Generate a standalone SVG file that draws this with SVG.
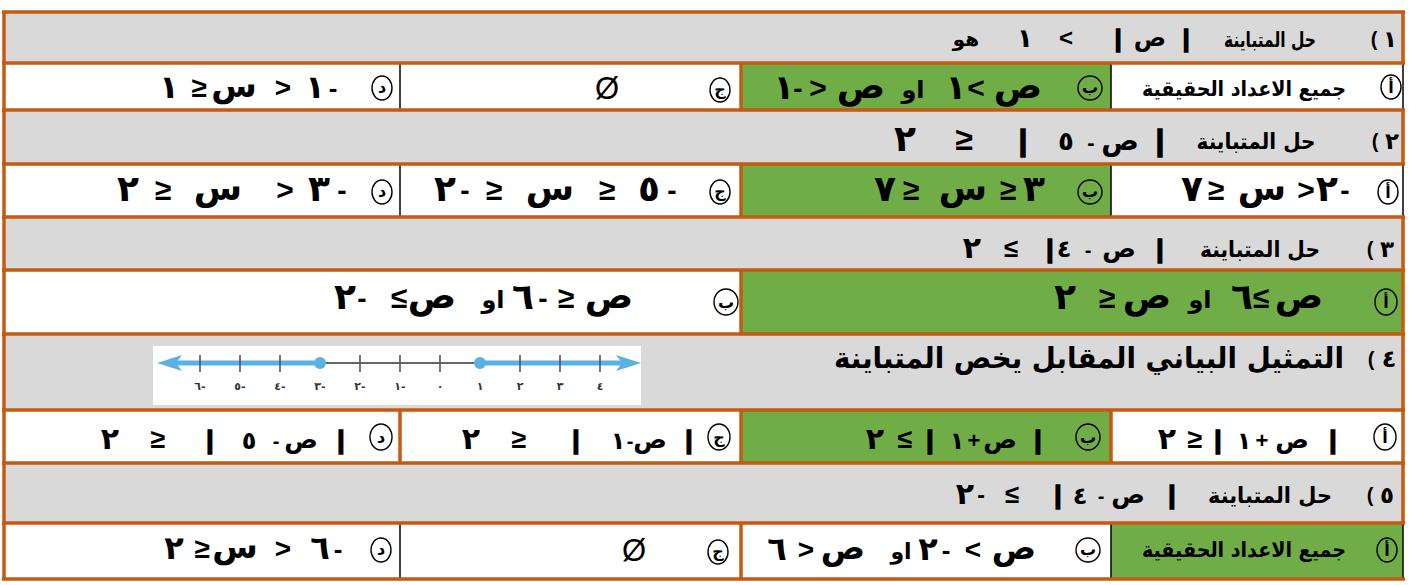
<svg xmlns="http://www.w3.org/2000/svg" width="1418" height="585" viewBox="0 0 1418 585">
<style>
.hd{fill:#D9D9D9}
.gr{fill:#70AD47}
.ol{stroke:#C55A11;stroke-width:3.5;fill:none}
.bl{stroke:#000;stroke-width:1.5;fill:none}
.ar{font-family:'DejaVu Sans',sans-serif;font-weight:bold;text-anchor:middle;fill:#000}
.sy{font-family:'Liberation Sans',Arial,sans-serif;font-weight:bold;text-anchor:middle;fill:#000}
.br{font-family:'Liberation Sans',Arial,sans-serif;font-weight:bold;text-anchor:middle;fill:#000;stroke:#000;stroke-width:1.6}
.em{font-family:'Liberation Sans',Arial,sans-serif;text-anchor:middle;fill:#000}
.ci{fill:none;stroke:#000;stroke-width:1.4}
.cl{font-family:'DejaVu Sans',sans-serif;font-weight:bold;font-size:16px;text-anchor:middle;fill:#000}
.nl{font-family:'DejaVu Sans',sans-serif;font-weight:bold;font-size:11px;text-anchor:middle;fill:#333}
.tk{stroke:#555;stroke-width:1.6}
</style>
<rect width="1418" height="585" fill="#fff"/>
<g id="fills">
<rect class="hd" x="4" y="12" width="1399" height="51"/>
<rect class="hd" x="4" y="110" width="1399" height="54"/>
<rect class="hd" x="4" y="217" width="1399" height="53"/>
<rect class="hd" x="4" y="334" width="1399" height="76"/>
<rect class="hd" x="4" y="463" width="1399" height="60"/>
<rect class="gr" x="741" y="63" width="370" height="47"/>
<rect class="gr" x="741" y="164" width="370" height="53"/>
<rect class="gr" x="741" y="270" width="662" height="64"/>
<rect class="gr" x="741" y="410" width="370" height="53"/>
<rect class="gr" x="1111" y="523" width="292" height="56"/>
</g>
<g id="grid">
<line class="bl" x1="400" y1="63" x2="400" y2="110"/>
<line class="bl" x1="1111" y1="63" x2="1111" y2="110"/>
<line class="bl" x1="400" y1="164" x2="400" y2="217"/>
<line class="bl" x1="1111" y1="164" x2="1111" y2="217"/>
<line class="bl" x1="400" y1="523" x2="400" y2="579"/>
<line class="bl" x1="1111" y1="523" x2="1111" y2="579"/>
<line class="bl" x1="1403" y1="63" x2="1403" y2="110"/>
<line class="bl" x1="1403" y1="164" x2="1403" y2="217"/>
<line class="bl" x1="1403" y1="523" x2="1403" y2="579"/>
<line class="ol" x1="741" y1="63" x2="741" y2="110"/>
<line class="ol" x1="741" y1="164" x2="741" y2="217"/>
<line class="ol" x1="741" y1="270" x2="741" y2="334"/>
<line class="ol" x1="741" y1="410" x2="741" y2="463"/>
<line class="ol" x1="741" y1="523" x2="741" y2="579"/>
<line class="ol" x1="400" y1="410" x2="400" y2="463"/>
<line class="ol" x1="1111" y1="410" x2="1111" y2="463"/>
<path class="ol" d="M1403 12V63M1403 110V164M1403 217V523"/>
<line class="ol" x1="4" y1="12" x2="4" y2="579"/>
<path class="ol" d="M2 12H1405M2 63H1405M2 110H1405M2 164H1405M2 217H1405M2 270H1405M2 334H1405M2 410H1405M2 463H1405M2 523H1405M2 579H1405"/>
</g>

<g id="q1">
<text class="ar" x="966" y="46" font-size="20">هو</text>
<text class="ar" x="1025" y="47" font-size="26">١</text>
<text class="sy" x="1066" y="46" font-size="24">&lt;</text>
<text class="br" x="1118" y="47" font-size="24">|</text>
<text class="ar" x="1150" y="46" font-size="24">ص</text>
<text class="br" x="1186" y="47" font-size="24">|</text>
<text class="ar" x="1270" y="47" font-size="21" textLength="92" lengthAdjust="spacingAndGlyphs">حل المتباينة</text>
<text class="sy" x="1374" y="46" font-size="20">(</text>
<text class="ar" x="1390" y="47" font-size="23">١</text>
</g>
<g id="q1a">
<text class="ar" x="1244" y="96" font-size="21" textLength="204" lengthAdjust="spacingAndGlyphs">جميع الاعداد الحقيقية</text>
<ellipse class="ci" cx="1391" cy="87" rx="10" ry="12"/><text class="cl" x="1391" y="93">أ</text>
</g>
<g id="q1b">
<text class="ar" x="784" y="99" font-size="34">١</text>
<text class="sy" x="798" y="98" font-size="28">-</text>
<text class="sy" x="818" y="98" font-size="30">&gt;</text>
<text class="ar" x="861" y="98" font-size="36">ص</text>
<text class="ar" x="913" y="98" font-size="24">او</text>
<text class="ar" x="956" y="99" font-size="34">١</text>
<text class="sy" x="976" y="98" font-size="30">&lt;</text>
<text class="ar" x="1018" y="98" font-size="36">ص</text>
<ellipse class="ci" cx="1090" cy="88" rx="12" ry="12"/><text class="cl" x="1090" y="93">ب</text>
</g>
<g id="q1c">
<text class="em" x="607" y="99" font-size="31">Ø</text>
<ellipse class="ci" cx="720" cy="90" rx="10" ry="12"/><text class="cl" x="720" y="95">ج</text>
</g>
<g id="q1d">
<text class="ar" x="169" y="98" font-size="32">١</text>
<text class="sy" x="199" y="97" font-size="28">≥</text>
<text class="ar" x="234" y="97" font-size="33">س</text>
<text class="sy" x="283" y="97" font-size="28">&gt;</text>
<text class="ar" x="315" y="98" font-size="32">١</text>
<text class="sy" x="333" y="97" font-size="26">-</text>
<ellipse class="ci" cx="382" cy="88" rx="10" ry="12"/><text class="cl" x="382" y="93">د</text>
</g>

<g id="q2">
<text class="ar" x="905" y="151" font-size="36">٢</text>
<text class="sy" x="964" y="150" font-size="32">≥</text>
<text class="br" x="1023" y="151" font-size="30">|</text>
<text class="ar" x="1066" y="150" font-size="26">٥</text>
<text class="sy" x="1091" y="150" font-size="22">-</text>
<text class="ar" x="1120" y="150" font-size="28">ص</text>
<text class="br" x="1160" y="151" font-size="30">|</text>
<text class="ar" x="1256" y="149" font-size="22" textLength="119" lengthAdjust="spacingAndGlyphs">حل المتباينة</text>
<text class="sy" x="1375" y="148" font-size="20">(</text>
<text class="ar" x="1392" y="149" font-size="23">٢</text>
</g>
<g id="q2a">
<text class="ar" x="1192" y="201" font-size="36">٧</text>
<text class="sy" x="1216" y="200" font-size="30">≥</text>
<text class="ar" x="1262" y="200" font-size="35">س</text>
<text class="sy" x="1306" y="200" font-size="30">&gt;</text>
<text class="ar" x="1327" y="201" font-size="36">٢</text>
<text class="sy" x="1345" y="200" font-size="28">-</text>
<ellipse class="ci" cx="1388" cy="192" rx="10" ry="12"/><text class="cl" x="1388" y="198">أ</text>
</g>
<g id="q2b">
<text class="ar" x="885" y="201" font-size="36">٧</text>
<text class="sy" x="911" y="200" font-size="30">≥</text>
<text class="ar" x="963" y="200" font-size="35">س</text>
<text class="sy" x="1008" y="200" font-size="30">≥</text>
<text class="ar" x="1034" y="201" font-size="36">٣</text>
<ellipse class="ci" cx="1090" cy="192" rx="12" ry="12"/><text class="cl" x="1090" y="197">ب</text>
</g>
<g id="q2c">
<text class="ar" x="445" y="201" font-size="36">٢</text>
<text class="sy" x="465" y="200" font-size="28">-</text>
<text class="sy" x="494" y="200" font-size="30">≥</text>
<text class="ar" x="550" y="200" font-size="35">س</text>
<text class="sy" x="607" y="200" font-size="30">≥</text>
<text class="ar" x="649" y="201" font-size="36">٥</text>
<text class="sy" x="672" y="200" font-size="28">-</text>
<ellipse class="ci" cx="720" cy="192" rx="10" ry="12"/><text class="cl" x="720" y="197">ج</text>
</g>
<g id="q2d">
<text class="ar" x="128" y="201" font-size="36">٢</text>
<text class="sy" x="163" y="200" font-size="30">≥</text>
<text class="ar" x="218" y="200" font-size="35">س</text>
<text class="sy" x="285" y="200" font-size="30">&gt;</text>
<text class="ar" x="319" y="201" font-size="36">٣</text>
<text class="sy" x="342" y="200" font-size="28">-</text>
<ellipse class="ci" cx="382" cy="192" rx="10" ry="12"/><text class="cl" x="382" y="197">د</text>
</g>

<g id="q3">
<text class="ar" x="972" y="258" font-size="30">٢</text>
<text class="sy" x="1011" y="257" font-size="26">≤</text>
<text class="br" x="1050" y="258" font-size="26">|</text>
<text class="ar" x="1064" y="257" font-size="24">٤</text>
<text class="sy" x="1088" y="257" font-size="20">-</text>
<text class="ar" x="1119" y="257" font-size="25">ص</text>
<text class="br" x="1160" y="258" font-size="26">|</text>
<text class="ar" x="1260" y="257" font-size="22" textLength="120" lengthAdjust="spacingAndGlyphs">حل المتباينة</text>
<text class="sy" x="1370" y="256" font-size="20">(</text>
<text class="ar" x="1387" y="257" font-size="23">٣</text>
</g>
<g id="q3a">
<text class="ar" x="1065" y="309" font-size="36">٢</text>
<text class="sy" x="1107" y="308" font-size="30">≥</text>
<text class="ar" x="1147" y="308" font-size="36">ص</text>
<text class="ar" x="1200" y="308" font-size="24">او</text>
<text class="ar" x="1242" y="309" font-size="36">٦</text>
<text class="sy" x="1261" y="308" font-size="30">≤</text>
<text class="ar" x="1299" y="308" font-size="36">ص</text>
<ellipse class="ci" cx="1386" cy="302" rx="11" ry="13"/><text class="cl" x="1386" y="308">أ</text>
</g>
<g id="q3b">
<text class="ar" x="345" y="309" font-size="36">٢</text>
<text class="sy" x="362" y="308" font-size="28">-</text>
<text class="sy" x="399" y="308" font-size="30">≤</text>
<text class="ar" x="432" y="308" font-size="36">ص</text>
<text class="ar" x="493" y="308" font-size="24">او</text>
<text class="ar" x="523" y="309" font-size="36">٦</text>
<text class="sy" x="543" y="308" font-size="28">-</text>
<text class="sy" x="566" y="308" font-size="30">≥</text>
<text class="ar" x="609" y="308" font-size="36">ص</text>
<ellipse class="ci" cx="726" cy="302" rx="12" ry="13"/><text class="cl" x="726" y="308">ب</text>
</g>

<g id="q4">
<text class="ar" x="1344" y="368" font-size="29" text-anchor="end" style="text-anchor:end" textLength="510" lengthAdjust="spacingAndGlyphs">التمثيل البياني المقابل يخص المتباينة</text>
<text class="sy" x="1371" y="366" font-size="20">(</text>
<text class="ar" x="1389" y="367" font-size="24">٤</text>
</g>
<g id="numberline">
<rect x="153" y="346" width="488" height="59" fill="#fff"/>
<line x1="172" y1="363" x2="320" y2="363" stroke="#5AB1E2" stroke-width="5"/>
<line x1="480" y1="363" x2="626" y2="363" stroke="#5AB1E2" stroke-width="5"/>
<line x1="320" y1="363" x2="480" y2="363" stroke="#333" stroke-width="1.5"/>
<polygon points="157,363 182,355 176,363 182,371" fill="#5AB1E2"/>
<polygon points="641,363 616,355 622,363 616,371" fill="#5AB1E2"/>
<path class="tk" d="M200 355V372M240 355V372M280 355V372M360 355V372M400 355V372M440 355V372M520 355V372M560 355V372M600 355V372"/>
<circle cx="320" cy="363" r="6" fill="#5AB1E2"/>
<circle cx="480" cy="363" r="6" fill="#5AB1E2"/>
<text class="nl" x="200" y="390">٦-</text>
<text class="nl" x="240" y="390">٥-</text>
<text class="nl" x="280" y="390">٤-</text>
<text class="nl" x="320" y="390">٣-</text>
<text class="nl" x="360" y="390">٢-</text>
<text class="nl" x="400" y="390">١-</text>
<text class="nl" x="440" y="390">٠</text>
<text class="nl" x="480" y="390">١</text>
<text class="nl" x="520" y="390">٢</text>
<text class="nl" x="560" y="390">٣</text>
<text class="nl" x="600" y="390">٤</text>
</g>
<g id="q4a">
<text class="ar" x="1167" y="449" font-size="30">٢</text>
<text class="sy" x="1195" y="448" font-size="27">≥</text>
<text class="br" x="1218" y="449" font-size="26">|</text>
<text class="ar" x="1244" y="449" font-size="24">١</text>
<text class="sy" x="1262" y="448" font-size="22">+</text>
<text class="ar" x="1292" y="448" font-size="25">ص</text>
<text class="br" x="1333" y="449" font-size="26">|</text>
<ellipse class="ci" cx="1385" cy="437" rx="11" ry="13"/><text class="cl" x="1385" y="443">أ</text>
</g>
<g id="q4b">
<text class="ar" x="875" y="449" font-size="30">٢</text>
<text class="sy" x="905" y="448" font-size="27">≤</text>
<text class="br" x="930" y="449" font-size="26">|</text>
<text class="ar" x="957" y="449" font-size="24">١</text>
<text class="sy" x="974" y="448" font-size="22">+</text>
<text class="ar" x="1000" y="448" font-size="25">ص</text>
<text class="br" x="1038" y="449" font-size="26">|</text>
<ellipse class="ci" cx="1088" cy="437" rx="12" ry="13"/><text class="cl" x="1088" y="443">ب</text>
</g>
<g id="q4c">
<text class="ar" x="471" y="449" font-size="30">٢</text>
<text class="sy" x="519" y="448" font-size="27">≥</text>
<text class="br" x="576" y="449" font-size="26">|</text>
<text class="ar" x="618" y="449" font-size="24">١</text>
<text class="sy" x="630" y="448" font-size="20">-</text>
<text class="ar" x="650" y="448" font-size="25">ص</text>
<text class="br" x="689" y="449" font-size="26">|</text>
<ellipse class="ci" cx="719" cy="437" rx="11" ry="13"/><text class="cl" x="719" y="443">ج</text>
</g>
<g id="q4d">
<text class="ar" x="110" y="449" font-size="30">٢</text>
<text class="sy" x="158" y="448" font-size="27">≥</text>
<text class="br" x="210" y="449" font-size="26">|</text>
<text class="ar" x="249" y="449" font-size="24">٥</text>
<text class="sy" x="276" y="448" font-size="20">-</text>
<text class="ar" x="301" y="448" font-size="25">ص</text>
<text class="br" x="341" y="449" font-size="26">|</text>
<ellipse class="ci" cx="381" cy="437" rx="11" ry="13"/><text class="cl" x="381" y="443">د</text>
</g>

<g id="q5">
<text class="ar" x="965" y="504" font-size="30">٢</text>
<text class="sy" x="981" y="503" font-size="23">-</text>
<text class="sy" x="1012" y="503" font-size="26">≤</text>
<text class="br" x="1058" y="504" font-size="26">|</text>
<text class="ar" x="1080" y="504" font-size="24">٤</text>
<text class="sy" x="1101" y="503" font-size="20">-</text>
<text class="ar" x="1128" y="503" font-size="25">ص</text>
<text class="br" x="1172" y="504" font-size="26">|</text>
<text class="ar" x="1270" y="503" font-size="22" textLength="124" lengthAdjust="spacingAndGlyphs">حل المتباينة</text>
<text class="sy" x="1370" y="502" font-size="20">(</text>
<text class="ar" x="1387" y="503" font-size="23">٥</text>
</g>
<g id="q5a">
<text class="ar" x="1244" y="557" font-size="21" textLength="204" lengthAdjust="spacingAndGlyphs">جميع الاعداد الحقيقية</text>
<ellipse class="ci" cx="1387" cy="550" rx="10" ry="12"/><text class="cl" x="1387" y="556">أ</text>
</g>
<g id="q5b">
<text class="ar" x="777" y="560" font-size="32">٦</text>
<text class="sy" x="806" y="559" font-size="28">&gt;</text>
<text class="ar" x="843" y="559" font-size="33">ص</text>
<text class="ar" x="901" y="559" font-size="22">او</text>
<text class="ar" x="928" y="560" font-size="32">٢</text>
<text class="sy" x="946" y="559" font-size="26">-</text>
<text class="sy" x="973" y="559" font-size="28">&lt;</text>
<text class="ar" x="1014" y="559" font-size="33">ص</text>
<ellipse class="ci" cx="1088" cy="550" rx="12" ry="12"/><text class="cl" x="1088" y="555">ب</text>
</g>
<g id="q5c">
<text class="em" x="634" y="561" font-size="31">Ø</text>
<ellipse class="ci" cx="718" cy="552" rx="10" ry="12"/><text class="cl" x="718" y="557">ج</text>
</g>
<g id="q5d">
<text class="ar" x="174" y="559" font-size="32">٢</text>
<text class="sy" x="202" y="558" font-size="28">≥</text>
<text class="ar" x="235" y="558" font-size="33">س</text>
<text class="sy" x="283" y="558" font-size="28">&gt;</text>
<text class="ar" x="320" y="559" font-size="32">٦</text>
<text class="sy" x="338" y="558" font-size="26">-</text>
<ellipse class="ci" cx="381" cy="550" rx="10" ry="12"/><text class="cl" x="381" y="555">د</text>
</g>
</svg>
